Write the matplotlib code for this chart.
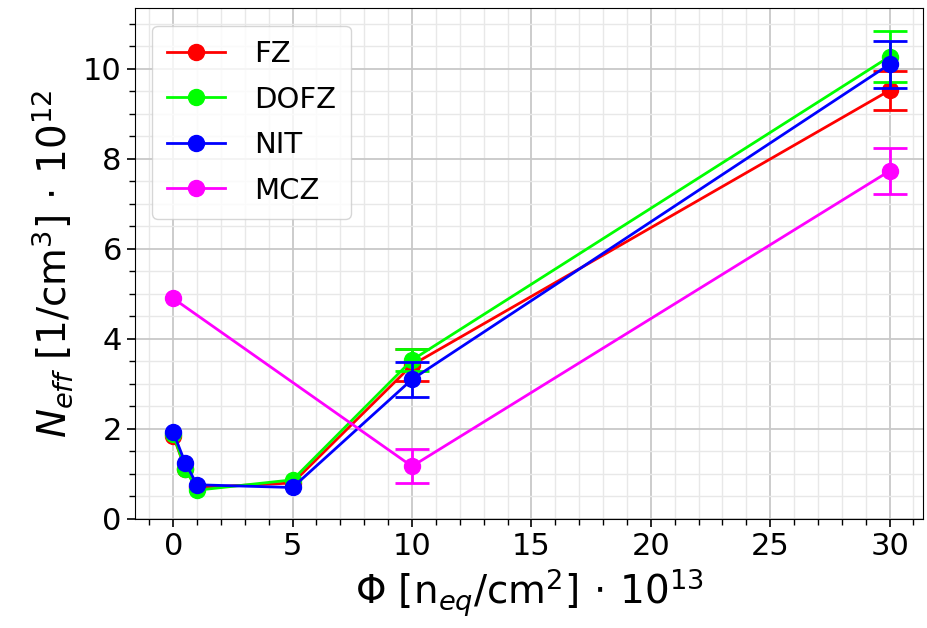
import numpy as np
import matplotlib
matplotlib.use("Agg")
import matplotlib.pyplot as plt
from matplotlib.ticker import MultipleLocator

# fluence [n_eq/cm^2 * 1e13]
phi = [0, 0.5, 1, 5, 10, 30]
phi_mcz = [0, 10, 30]

# N_eff [1/cm^3 * 1e12]
neff_fz = [1.85, 1.12, 0.70, 0.80, 3.42, 9.52]
neff_dofz = [1.88, 1.12, 0.64, 0.87, 3.53, 10.27]
neff_nit = [1.93, 1.25, 0.76, 0.70, 3.10, 10.10]
neff_mcz = [4.90, 1.17, 7.73]

# uncertainties only measured at 10 and 30
phi_err = [10, 30]
err_fz = [0.35, 0.44]
err_dofz = [0.25, 0.57]
err_nit = [0.38, 0.52]
err_mcz = [0.38, 0.51]

fig = plt.figure(figsize=(9.28, 6.28), dpi=100)
ax = fig.add_axes([135 / 928, 109 / 628, 788 / 928, 511 / 628])

series = [
    ("FZ", phi, neff_fz, err_fz, "#ff0000"),
    ("DOFZ", phi, neff_dofz, err_dofz, "#00ff00"),
    ("NIT", phi, neff_nit, err_nit, "#0000ff"),
    ("MCZ", phi_mcz, neff_mcz, err_mcz, "#ff00ff"),
]
for name, x, y, e, c in series:
    ax.plot(x, y, color=c, marker="o", markersize=11.5, lw=2, label=name)
    y_at = [y[x.index(p)] for p in phi_err]
    ax.errorbar(phi_err, y_at, yerr=e, fmt="none", ecolor=c,
                capsize=12, elinewidth=2, capthick=2)

ax.set_xlim(-1.6, 31.4)
ax.set_ylim(0, 11.35)
ax.xaxis.set_major_locator(MultipleLocator(5))
ax.xaxis.set_minor_locator(MultipleLocator(1))
ax.yaxis.set_major_locator(MultipleLocator(2))
ax.yaxis.set_minor_locator(MultipleLocator(0.5))
ax.grid(which="major", color="#c8c8c8", lw=1.3)
ax.grid(which="minor", color="#e8e8e8", lw=1.0)
ax.set_axisbelow(True)
ax.tick_params(which="major", labelsize=22, length=6, width=1.2)
ax.tick_params(which="minor", length=4, width=1.0)

ax.set_xlabel(r"$\Phi$ [n$_{eq}$/cm$^2$]$\,\cdot\,$10$^{13}$", fontsize=28, labelpad=4)
ax.set_ylabel(r"$N_{eff}$ [1/cm$^3$]$\,\cdot\,$10$^{12}$", fontsize=28, labelpad=6)

ax.legend(loc="upper left", fontsize=21, handlelength=2.0, borderpad=0.5,
          labelspacing=0.6, handletextpad=1.0, borderaxespad=0.6)

fig.savefig("out.png", dpi=100)
